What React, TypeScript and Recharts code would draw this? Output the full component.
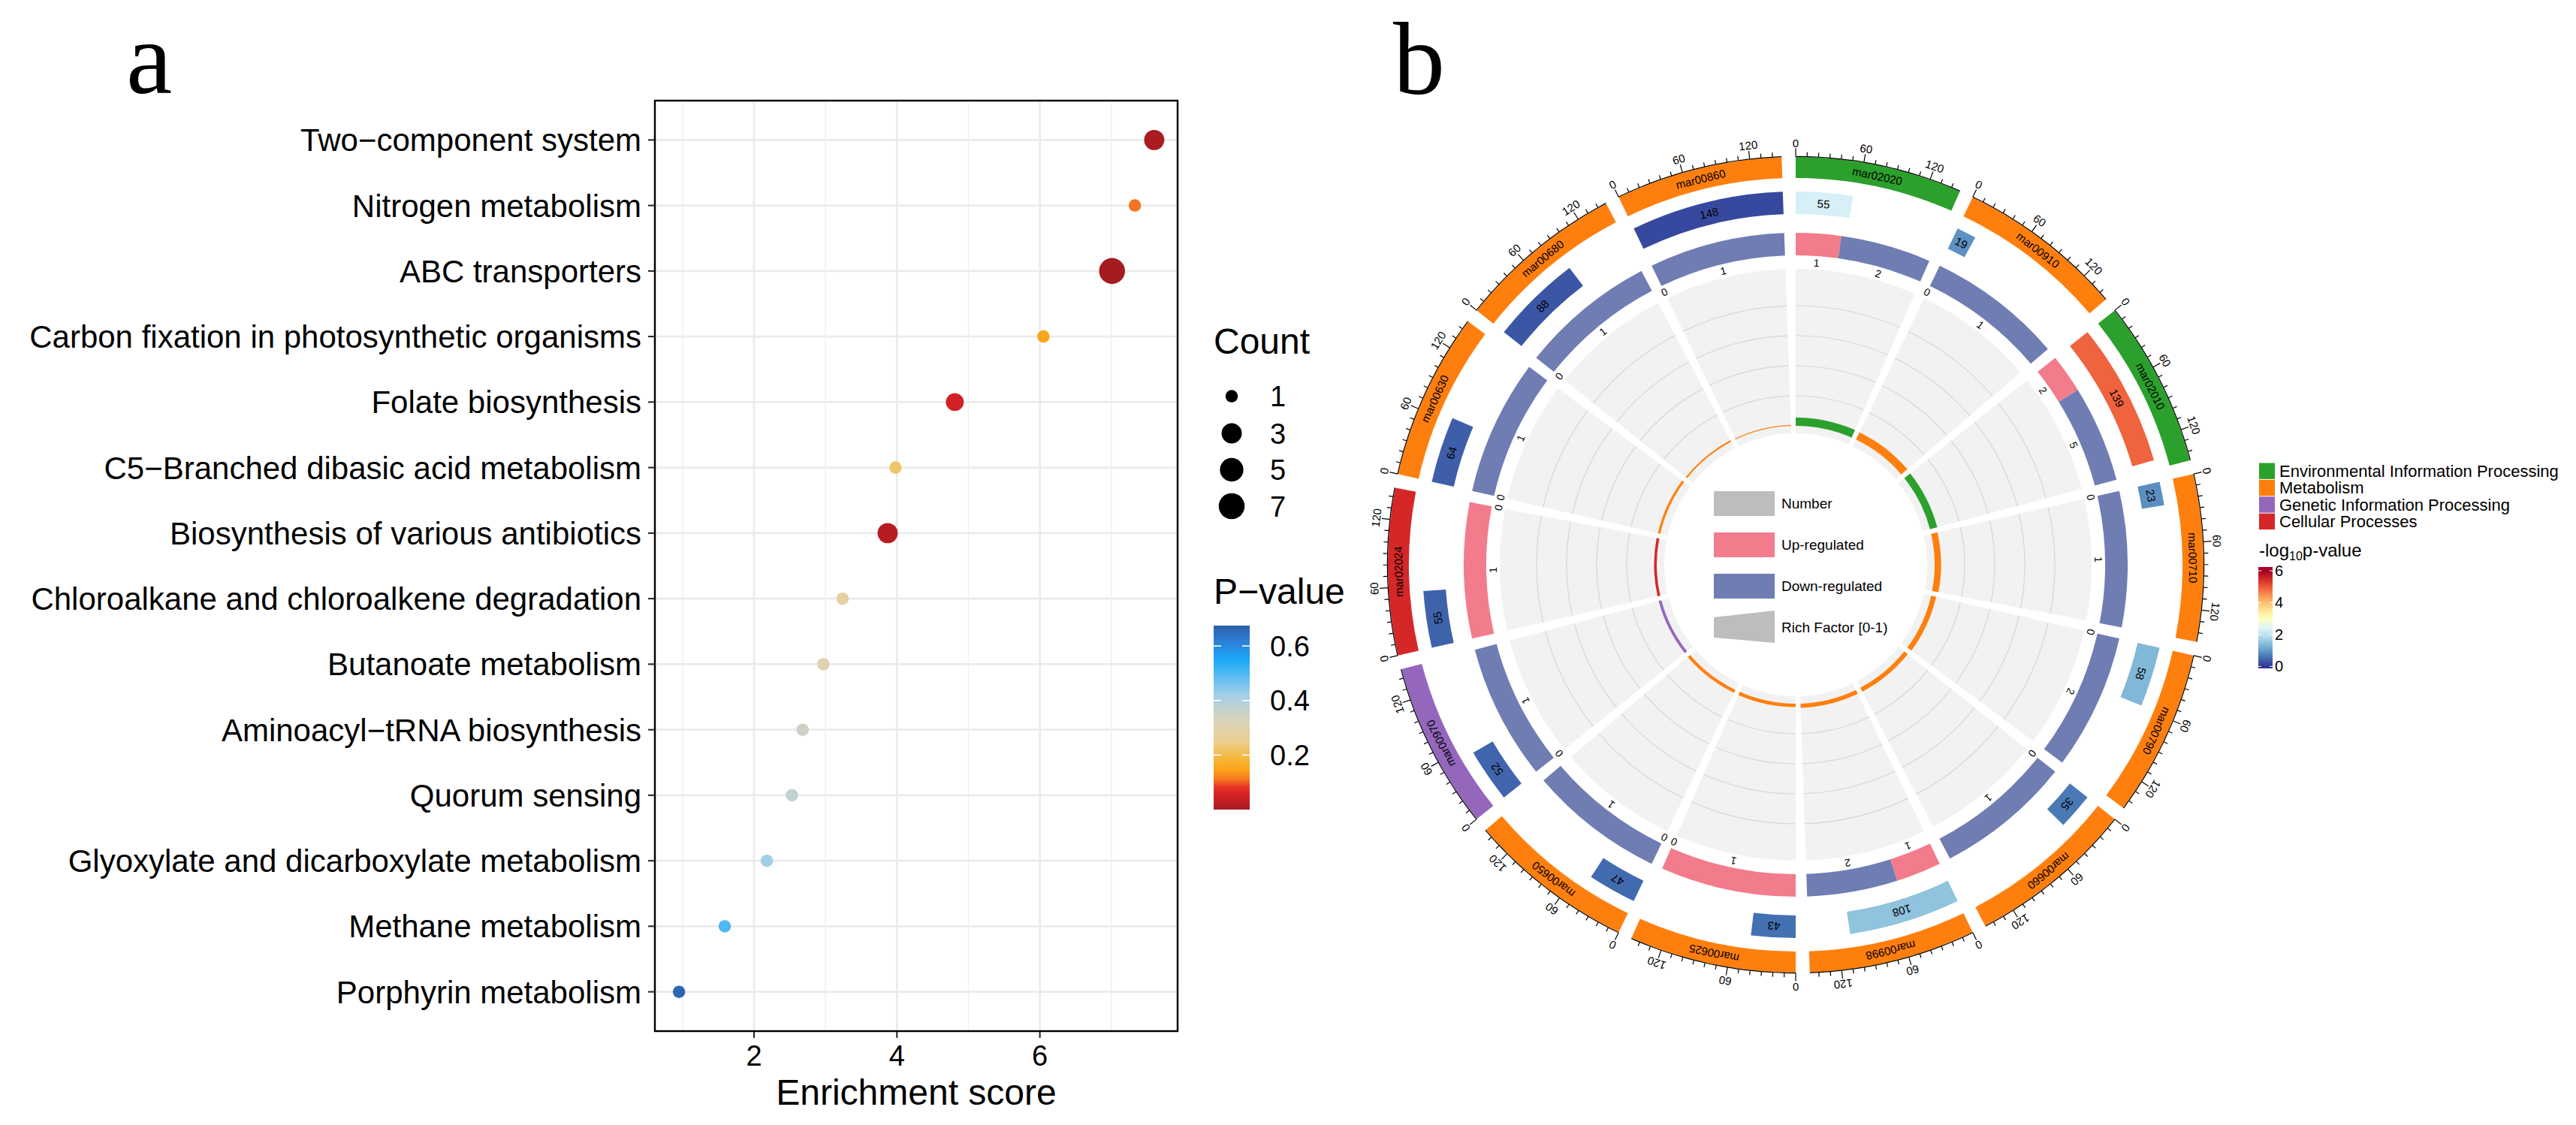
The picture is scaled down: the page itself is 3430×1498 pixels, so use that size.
import React from 'react';
import {
  ScatterChart, Scatter, XAxis, YAxis, CartesianGrid, ReferenceLine,
  PieChart, Pie, Cell, Sector,
} from 'recharts';

// ---- panel a: KEGG enrichment dot plot (top row first)
const PATHWAYS = [
  'Two−component system',
  'Nitrogen metabolism',
  'ABC transporters',
  'Carbon fixation in photosynthetic organisms',
  'Folate biosynthesis',
  'C5−Branched dibasic acid metabolism',
  'Biosynthesis of various antibiotics',
  'Chloroalkane and chloroalkene degradation',
  'Butanoate metabolism',
  'Aminoacyl−tRNA biosynthesis',
  'Quorum sensing',
  'Glyoxylate and dicarboxylate metabolism',
  'Methane metabolism',
  'Porphyrin metabolism',
];
const ENRICHMENT = [7.6, 7.33, 7.01, 6.05, 4.81, 3.98, 3.87, 3.24, 2.97, 2.68, 2.53, 2.18, 1.59, 0.95];
const GENE_COUNT = [3, 1, 7, 1, 2, 1, 3, 1, 1, 1, 1, 1, 1, 1];
const P_VALUE = [0.003, 0.11, 0.0001, 0.15, 0.05, 0.22, 0.02, 0.28, 0.31, 0.35, 0.37, 0.42, 0.5, 0.66];
const X_TICKS = [2, 4, 6];
const X_MINOR = [1, 3, 5, 7];
const COUNT_KEYS = [1, 3, 5, 7];
const P_TICKS = [0.2, 0.4, 0.6];

// ---- panel b: circos of the same pathways
const MAP_IDS = ['mar02020', 'mar00910', 'mar02010', 'mar00710', 'mar00790', 'mar00660', 'mar00998',
  'mar00625', 'mar00650', 'mar00970', 'mar02024', 'mar00630', 'mar00680', 'mar00860'];
const MAP_CLASS = [0, 1, 0, 1, 1, 1, 1, 1, 1, 2, 3, 1, 1, 1];
const MAP_TOTAL = [55, 19, 139, 23, 58, 35, 108, 43, 47, 52, 55, 64, 88, 148];
const UP = [1, 0, 2, 0, 0, 0, 1, 1, 0, 0, 1, 0, 0, 0];
const DOWN = [2, 1, 5, 1, 2, 1, 2, 0, 1, 1, 0, 1, 1, 1];
const RICH = [0.055, 0.053, 0.05, 0.043, 0.034, 0.029, 0.028, 0.023, 0.021, 0.019, 0.018, 0.016, 0.011, 0.007];
const NEG_LOG_P = [2.3, 0.9, 4.9, 0.88, 1.35, 0.65, 1.5, 0.55, 0.5, 0.45, 0.43, 0.38, 0.3, 0.18];
const CLASS_NAMES = ['Environmental Information Processing', 'Metabolism', 'Genetic Information Processing', 'Cellular Processes'];
const CLASS_COLORS = ['#2CA02C', '#FF7F0E', '#9467BD', '#D62728'];
const AXIS_TICKS = [0, 10, 20, 30, 40, 50, 60, 70, 80, 90, 100, 110, 120, 130, 140];
const AXIS_LABELS = [0, 60, 120];
const LOGP_TICKS = [0, 2, 4, 6];

const UP_COLOR = '#F27C8C';
const DOWN_COLOR = '#6F7DB3';
const FONT = '"Liberation Sans", Arial, Helvetica, sans-serif';

// colour ramps
const P_STOPS: [number, string][] = [
  [0, '#A51C20'], [0.02, '#B71C21'], [0.06, '#DA2228'], [0.085, '#E83A25'], [0.115, '#F7801F'],
  [0.15, '#FBA51B'], [0.19, '#F5B840'], [0.25, '#EBCF90'], [0.33, '#D8D3BC'], [0.42, '#A3CFE6'],
  [0.5, '#4DB8F2'], [0.55, '#1AA8F5'], [0.61, '#2B84DC'], [0.675, '#2F5DA8'],
];
const RDYLBU = ['#313695', '#4575B4', '#74ADD1', '#ABD9E9', '#E0F3F8', '#FFFFBF', '#FEE090', '#FDAE61', '#F46D43', '#D73027', '#A50026'];
const LOGP_STOPS: [number, string][] = RDYLBU.map((c, i) => [i * 0.6, c]);

function mix(a: string, b: string, t: number) {
  const pa = [1, 3, 5].map(k => parseInt(a.slice(k, k + 2), 16));
  const pb = [1, 3, 5].map(k => parseInt(b.slice(k, k + 2), 16));
  return '#' + pa.map((v, k) => Math.round(v + (pb[k] - v) * t).toString(16).padStart(2, '0')).join('');
}
function ramp(stops: [number, string][], v: number) {
  if (v <= stops[0][0]) return stops[0][1];
  for (let i = 1; i < stops.length; i++) {
    if (v <= stops[i][0]) {
      const t = (v - stops[i - 1][0]) / (stops[i][0] - stops[i - 1][0]);
      return mix(stops[i - 1][1], stops[i][1], t);
    }
  }
  return stops[stops.length - 1][1];
}

// ggplot-like area size scale
const dotSize = (c: number) => 16.5 + 18.1 * Math.sqrt((c - 1) / (7 - 1));

const dots = PATHWAYS.map((name, i) => ({
  name, score: ENRICHMENT[i], rank: PATHWAYS.length - i, count: GENE_COUNT[i], p: P_VALUE[i],
}));

// circos geometry
const CX = 700;
const CY = 752;
const SECTOR_MAX = Math.max(...MAP_TOTAL);
const GAP_DEG = 1.98;
const GAP_UNITS = SECTOR_MAX * GAP_DEG / (360 / MAP_IDS.length - GAP_DEG);
const RAD = Math.PI / 180;
const polar = (cx: number, cy: number, r: number, a: number) =>
  [cx + r * Math.cos(-a * RAD), cy + r * Math.sin(-a * RAD)];

function arcText(cx: number, cy: number, r: number, a: number, txt: any, size: number, key?: any) {
  const [x, y] = polar(cx, cy, r, a);
  return (
    <text key={key} x={x} y={y} transform={`rotate(${90 - a} ${x} ${y})`} textAnchor="middle"
      dominantBaseline="central" fontSize={size} fill="#000" fontFamily={FONT}>{txt}</text>
  );
}

const gap = { v: GAP_UNITS, color: 'none' };
const bandData = MAP_IDS.flatMap((id, i) => [{ v: SECTOR_MAX, id, color: CLASS_COLORS[MAP_CLASS[i]] }, gap]);
const bgData = MAP_IDS.flatMap(() => [{ v: SECTOR_MAX, color: '#F2F2F2' }, gap]);
const gridData = MAP_IDS.flatMap(() => [{ v: SECTOR_MAX, color: '#D6D6D6' }, gap]);
const axisData = MAP_IDS.flatMap(() => [
  ...AXIS_TICKS.map(t => ({ v: Math.min(10, SECTOR_MAX - t), tick: t, color: '#000' })),
  { v: GAP_UNITS, tick: -1, color: 'none' },
]);
const numData = MAP_IDS.flatMap((_, i) => [
  { v: MAP_TOTAL[i], n: MAP_TOTAL[i], color: ramp(LOGP_STOPS, NEG_LOG_P[i]) },
  { v: SECTOR_MAX - MAP_TOTAL[i], color: 'none' },
  gap,
]);
const udData = MAP_IDS.flatMap((_, i) => {
  const tot = UP[i] + DOWN[i];
  return [
    { v: UP[i] / tot * SECTOR_MAX, kind: 'up', count: UP[i], other: DOWN[i], color: UP_COLOR },
    { v: DOWN[i] / tot * SECTOR_MAX, kind: 'down', count: DOWN[i], other: UP[i], color: DOWN_COLOR },
    gap,
  ];
});
const richData = MAP_IDS.flatMap((_, i) => [{ v: SECTOR_MAX, rf: RICH[i], color: CLASS_COLORS[MAP_CLASS[i]] }, gap]);
const GRID_R = [225, 265, 305, 345];

const pieBase = {
  cx: CX, cy: CY, startAngle: 90, endAngle: -270, dataKey: 'v', stroke: 'none',
  isAnimationActive: false, labelLine: false,
};

const renderId = (p: any) => (p.payload.id ? arcText(p.cx, p.cy, 529, p.midAngle, p.payload.id, 15) : null);
const renderNum = (p: any) => (p.payload.n ? arcText(p.cx, p.cy, 482, p.midAngle, p.payload.n, 15) : null);
const renderTick = (p: any) => {
  const t = p.payload.tick;
  if (t == null || t < 0) return null;
  const major = AXIS_LABELS.includes(t);
  const [x1, y1] = polar(p.cx, p.cy, 543.5, p.startAngle);
  const [x2, y2] = polar(p.cx, p.cy, 543.5 + (major ? 11 : 6), p.startAngle);
  return (
    <g>
      <line x1={x1} y1={y1} x2={x2} y2={y2} stroke="#000" strokeWidth={1.2} />
      {major ? arcText(p.cx, p.cy, 562, p.startAngle, t, 15) : null}
    </g>
  );
};
const renderUpDown = (p: any) => {
  const d = p.payload;
  if (!d.kind || d.count === 0) return null;
  const out = [arcText(p.cx, p.cy, 403, p.midAngle, d.count, 14, 'm')];
  if (d.other === 0) {
    out.push(arcText(p.cx, p.cy, 403, d.kind === 'up' ? p.endAngle : p.startAngle, 0, 14, 'z'));
  }
  return <g>{out}</g>;
};
const renderRich = (p: any) => (p.payload.rf == null ? null : (
  <Sector cx={p.cx} cy={p.cy} innerRadius={185} outerRadius={185 + p.payload.rf * 200}
    startAngle={p.startAngle} endAngle={p.endAngle} fill={p.payload.color} />
));

const renderDot = (p: any) => (
  <circle cx={p.cx} cy={p.cy} r={dotSize(p.payload.count) / 2} fill={ramp(P_STOPS, p.payload.p)} />
);

export default function App() {
  const pBarTop = 833, pBarH = 245, pMax = 0.675;
  const pY = (v: number) => pBarTop + pBarH - v / pMax * pBarH;
  const lY = (v: number) => 887.3 - v * 21.22;
  return (
    <div style={{ position: 'relative', width: 3430, height: 1498, background: '#fff', fontFamily: FONT, overflow: 'hidden' }}>
      <style>{'body{margin:0}'}</style>

      <div style={{ position: 'absolute', left: 0, top: 0 }}>
        <ScatterChart width={1600} height={1498} margin={{ top: 134, right: 32, bottom: 0, left: 12 }}>
          <CartesianGrid stroke="#EBEBEB" strokeWidth={2.6} />
          {X_MINOR.map(x => <ReferenceLine key={x} x={x} stroke="#EFEFEF" strokeWidth={1.4} />)}
          <XAxis type="number" dataKey="score" domain={[0.6125, 7.9275]} ticks={X_TICKS} interval={0}
            allowDataOverflow height={125} axisLine={false} tickSize={9} tickMargin={10}
            tickLine={{ stroke: '#222', strokeWidth: 2 }} tick={{ fontSize: 38, fill: '#000' }} />
          <YAxis type="number" dataKey="rank" domain={[0.4, 14.6]} ticks={dots.map(d => d.rank)} interval={0}
            allowDataOverflow width={860} axisLine={false} tickSize={9} tickMargin={9}
            tickLine={{ stroke: '#222', strokeWidth: 2 }} tick={{ fontSize: 42, fill: '#000' }}
            tickFormatter={(v: number) => PATHWAYS[PATHWAYS.length - v]} />
          <Scatter data={dots} shape={renderDot} isAnimationActive={false} />
        </ScatterChart>
      </div>

      <div style={{ position: 'absolute', left: 1691, top: 0 }}>
        <PieChart width={1400} height={1498} margin={{ top: 0, right: 0, bottom: 0, left: 0 }}>
          <Pie {...pieBase} data={bgData} innerRadius={175} outerRadius={394}>
            {bgData.map((d, i) => <Cell key={i} fill={d.color} />)}
          </Pie>
          {GRID_R.map(r => (
            <Pie key={r} {...pieBase} data={gridData} innerRadius={r - 0.6} outerRadius={r + 0.6}>
              {gridData.map((d, i) => <Cell key={i} fill={d.color} />)}
            </Pie>
          ))}
          <Pie {...pieBase} data={richData} innerRadius={185} outerRadius={186} label={renderRich}>
            {richData.map((d, i) => <Cell key={i} fill="none" />)}
          </Pie>
          <Pie {...pieBase} data={udData} innerRadius={412} outerRadius={442} label={renderUpDown}>
            {udData.map((d, i) => <Cell key={i} fill={d.color} />)}
          </Pie>
          <Pie {...pieBase} data={numData} innerRadius={467} outerRadius={497} label={renderNum}>
            {numData.map((d, i) => <Cell key={i} fill={d.color} />)}
          </Pie>
          <Pie {...pieBase} data={bandData} innerRadius={515} outerRadius={543} label={renderId}>
            {bandData.map((d, i) => <Cell key={i} fill={d.color} />)}
          </Pie>
          <Pie {...pieBase} data={axisData} innerRadius={543} outerRadius={544.2} label={renderTick}>
            {axisData.map((d, i) => <Cell key={i} fill={d.color} />)}
          </Pie>
        </PieChart>
      </div>

      <svg width={3430} height={1498} style={{ position: 'absolute', left: 0, top: 0, pointerEvents: 'none' }}>
        <defs>
          <linearGradient id="pgrad" x1="0" y1="1" x2="0" y2="0">
            {P_STOPS.map(([v, c]) => <stop key={v} offset={v / pMax} stopColor={c} />)}
          </linearGradient>
          <linearGradient id="lgrad" gradientUnits="userSpaceOnUse" x1="0" y1={lY(0)} x2="0" y2={lY(6)}>
            {LOGP_STOPS.map(([v, c]) => <stop key={v} offset={v / 6} stopColor={c} />)}
          </linearGradient>
        </defs>

        <text x={168} y={124} fontFamily='"Liberation Serif", "Times New Roman", serif' fontSize={138}>a</text>
        <text x={1855} y={125} fontFamily='"Liberation Serif", "Times New Roman", serif' fontSize={138}>b</text>

        {/* panel a frame, titles and legends */}
        <rect x={872} y={134} width={696} height={1239} fill="none" stroke="#000" strokeWidth={2.4} />
        <text x={1220} y={1471} textAnchor="middle" fontSize={48}>Enrichment score</text>

        <text x={1616} y={471} fontSize={48}>Count</text>
        {COUNT_KEYS.map((c, i) => {
          const cy = [527.6, 577, 625.5, 674][i];
          return (
            <g key={c}>
              <circle cx={1640} cy={cy} r={dotSize(c) / 2} fill="#000" />
              <text x={1691} y={cy + 13.5} fontSize={38}>{c}</text>
            </g>
          );
        })}

        <text x={1616} y={804} fontSize={48}>P−value</text>
        <rect x={1616} y={pBarTop} width={48} height={pBarH} fill="url(#pgrad)" />
        {P_TICKS.map(v => (
          <g key={v}>
            <line x1={1616} x2={1626} y1={pY(v)} y2={pY(v)} stroke="#fff" strokeWidth={1.6} />
            <line x1={1654} x2={1664} y1={pY(v)} y2={pY(v)} stroke="#fff" strokeWidth={1.6} />
            <text x={1691} y={pY(v) + 13.5} fontSize={38}>{v.toFixed(1)}</text>
          </g>
        ))}

        {/* panel b inner legend */}
        <rect x={2282} y={654} width={81} height={33} fill="#BDBDBD" />
        <text x={2372} y={677} fontSize={19}>Number</text>
        <rect x={2282} y={709} width={81} height={33} fill={UP_COLOR} />
        <text x={2372} y={732} fontSize={19}>Up-regulated</text>
        <rect x={2282} y={764} width={81} height={33} fill={DOWN_COLOR} />
        <text x={2372} y={787} fontSize={19}>Down-regulated</text>
        <polygon points="2282,822 2363,813 2363,856 2282,849" fill="#BDBDBD" />
        <text x={2372} y={842} fontSize={19}>Rich Factor [0-1)</text>

        {/* panel b right legend */}
        {CLASS_NAMES.map((n, i) => (
          <g key={n}>
            <rect x={3008} y={616.5 + i * 22.4} width={21} height={21.4} fill={CLASS_COLORS[i]} />
            <text x={3035} y={635 + i * 22.4} fontSize={22}>{n}</text>
          </g>
        ))}
        <text x={3008} y={741} fontSize={24}>-log<tspan fontSize={16} dy={5}>10</tspan><tspan dy={-5}>p-value</tspan></text>
        <rect x={3007} y={755} width={19} height={135} fill="url(#lgrad)" />
        {LOGP_TICKS.map(v => (
          <g key={v}>
            <line x1={3007} x2={3011} y1={lY(v)} y2={lY(v)} stroke="#fff" strokeWidth={1} />
            <line x1={3022} x2={3026} y1={lY(v)} y2={lY(v)} stroke="#fff" strokeWidth={1} />
            <text x={3029} y={lY(v) + 7} fontSize={20}>{v}</text>
          </g>
        ))}
      </svg>
    </div>
  );
}
